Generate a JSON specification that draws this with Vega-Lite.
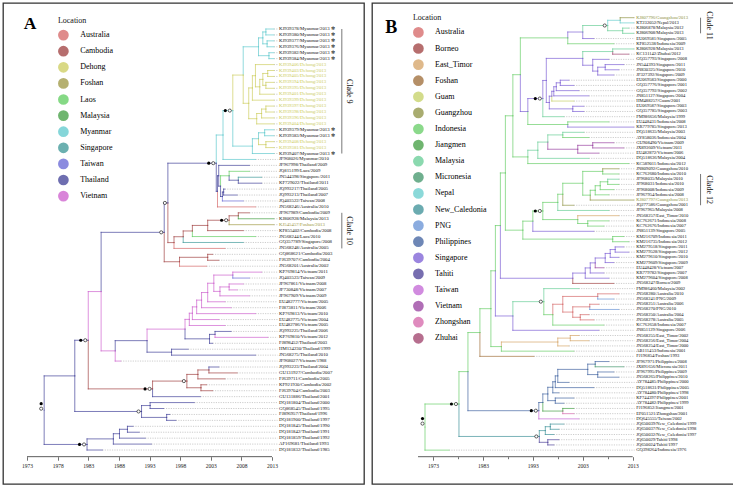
{
"$schema": "https://vega.github.io/schema/vega-lite/v6.json",
"background": "white",
"padding": {"left": 2, "top": 2, "right": 0, "bottom": 0},
"spacing": 6,
"config": {"view": {"stroke": "#333333", "strokeWidth": 1.3}, "font": "Liberation Serif"},
"resolve": {"scale": {"color": "independent", "x": "independent", "y": "independent"}, "legend": {"color": "independent"}, "axis": {"x": "independent", "y": "independent"}},
"datasets": {
"nodesA": [
{"id":1,"par":101,"x":2013.3,"y":1,"loc":"Myanmar","name":"KJ939378/Myanmar/2013  ✻"},
{"id":2,"par":101,"x":2013.3,"y":2,"loc":"Myanmar","name":"KJ939380/Myanmar/2013  ✻"},
{"id":3,"par":102,"x":2013.3,"y":3,"loc":"Myanmar","name":"KJ939377/Myanmar/2013  ✻"},
{"id":4,"par":102,"x":2013.3,"y":4,"loc":"Myanmar","name":"KJ939376/Myanmar/2013  ✻"},
{"id":5,"par":104,"x":2013.3,"y":5,"loc":"Myanmar","name":"KJ939382/Myanmar/2013  ✻"},
{"id":6,"par":104,"x":2013.3,"y":6,"loc":"Myanmar","name":"KJ939384/Myanmar/2013  ✻"},
{"id":7,"par":110,"x":2013.3,"y":7,"loc":"Dehong","name":"KJ939406/Dehong/2013","study":1},
{"id":8,"par":106,"x":2013.3,"y":8,"loc":"Dehong","name":"KJ939403/Dehong/2013","study":1},
{"id":9,"par":106,"x":2013.3,"y":9,"loc":"Dehong","name":"KJ939405/Dehong/2013","study":1},
{"id":10,"par":107,"x":2013.3,"y":10,"loc":"Dehong","name":"KJ939394/Dehong/2013","study":1},
{"id":11,"par":107,"x":2013.3,"y":11,"loc":"Dehong","name":"KJ939395/Dehong/2013","study":1},
{"id":12,"par":109,"x":2013.3,"y":12,"loc":"Dehong","name":"KJ939401/Dehong/2013","study":1},
{"id":13,"par":111,"x":2013.3,"y":13,"loc":"Dehong","name":"KJ939399/Dehong/2013","study":1},
{"id":14,"par":112,"x":2013.3,"y":14,"loc":"Dehong","name":"KJ939397/Dehong/2013","study":1},
{"id":15,"par":112,"x":2013.3,"y":15,"loc":"Dehong","name":"KJ939398/Dehong/2013","study":1},
{"id":16,"par":113,"x":2013.3,"y":16,"loc":"Dehong","name":"KJ939396/Dehong/2013","study":1},
{"id":17,"par":114,"x":2013.3,"y":17,"loc":"Dehong","name":"KJ939404/Dehong/2013","study":1},
{"id":18,"par":117,"x":2013.3,"y":18,"loc":"Myanmar","name":"KJ939379/Myanmar/2013  ✻"},
{"id":19,"par":117,"x":2013.3,"y":19,"loc":"Myanmar","name":"KJ939383/Myanmar/2013  ✻"},
{"id":20,"par":118,"x":2013.3,"y":20,"loc":"Dehong","name":"KJ939408/Dehong/2013","study":1},
{"id":21,"par":118,"x":2013.3,"y":21,"loc":"Dehong","name":"KJ939381/Dehong/2013","study":1},
{"id":22,"par":120,"x":2013.3,"y":22,"loc":"Myanmar","name":"KJ939407/Myanmar/2013  ✻"},
{"id":23,"par":122,"x":2010.3,"y":23,"loc":"Myanmar","name":"JF968026/Myanmar/2010"},
{"id":24,"par":128,"x":2009.3,"y":24,"loc":"Thailand","name":"JF967998/Thailand/2009"},
{"id":25,"par":124,"x":2009.3,"y":25,"loc":"Laos","name":"JQ815199/Laos/2009"},
{"id":26,"par":123,"x":2011.3,"y":26,"loc":"Singapore","name":"JN544398/Singapore/2011"},
{"id":27,"par":123,"x":2011.3,"y":27,"loc":"Thailand","name":"KF729022/Thailand/2011"},
{"id":28,"par":125,"x":2005.3,"y":28,"loc":"Thailand","name":"JQ993217/Thailand/2005"},
{"id":29,"par":125,"x":2007.3,"y":29,"loc":"Thailand","name":"JQ993213/Thailand/2007"},
{"id":30,"par":126,"x":2008.3,"y":30,"loc":"Taiwan","name":"JQ403522/Taiwan/2008"},
{"id":31,"par":129,"x":2010.3,"y":31,"loc":"Australia","name":"JN568246/Australia/2010"},
{"id":32,"par":131,"x":2009.3,"y":32,"loc":"Cambodia","name":"JF967989/Cambodia/2009"},
{"id":33,"par":131,"x":2013.3,"y":33,"loc":"Malaysia","name":"KJ806928/Malaysia/2013"},
{"id":34,"par":132,"x":2013.3,"y":34,"loc":"Foshan","name":"KJ545457/Foshan/2013","study":1},
{"id":35,"par":133,"x":2008.3,"y":35,"loc":"Cambodia","name":"KF855402/Cambodia/2008"},
{"id":36,"par":134,"x":2010.3,"y":36,"loc":"Laos","name":"JN568244/Laos/2010"},
{"id":37,"par":135,"x":2008.3,"y":37,"loc":"Singapore","name":"GQ357789/Singapore/2008"},
{"id":38,"par":136,"x":2005.3,"y":38,"loc":"Australia","name":"JN568248/Australia/2005"},
{"id":39,"par":137,"x":2003.3,"y":39,"loc":"Cambodia","name":"GQ868621/Cambodia/2003"},
{"id":40,"par":137,"x":2004.3,"y":40,"loc":"Cambodia","name":"FJ639707/Cambodia/2004"},
{"id":41,"par":138,"x":2002.3,"y":41,"loc":"Australia","name":"JN568201/Australia/2002"},
{"id":42,"par":141,"x":2011.3,"y":42,"loc":"Vietnam","name":"KP769814/Vietnam/2011"},
{"id":43,"par":141,"x":2009.3,"y":43,"loc":"Taiwan","name":"JQ403523/Taiwan/2009"},
{"id":44,"par":142,"x":2008.3,"y":44,"loc":"Vietnam","name":"JF967861/Vietnam/2008"},
{"id":45,"par":142,"x":2007.3,"y":45,"loc":"Vietnam","name":"JF730848/Vietnam/2007"},
{"id":46,"par":143,"x":2009.3,"y":46,"loc":"Vietnam","name":"JF967909/Vietnam/2009"},
{"id":47,"par":145,"x":2005.3,"y":47,"loc":"Vietnam","name":"EU482777/Vietnam/2005"},
{"id":48,"par":146,"x":2006.3,"y":48,"loc":"Vietnam","name":"FJ873811/Vietnam/2006"},
{"id":49,"par":147,"x":2010.3,"y":49,"loc":"Vietnam","name":"KP769813/Vietnam/2010"},
{"id":50,"par":148,"x":2004.3,"y":50,"loc":"Vietnam","name":"EU482775/Vietnam/2004"},
{"id":51,"par":149,"x":2005.3,"y":51,"loc":"Vietnam","name":"EU482786/Vietnam/2005"},
{"id":52,"par":150,"x":2006.3,"y":52,"loc":"Thailand","name":"JQ993225/Thailand/2006"},
{"id":53,"par":150,"x":2012.3,"y":53,"loc":"Vietnam","name":"KP769810/Vietnam/2012"},
{"id":54,"par":151,"x":2003.3,"y":54,"loc":"Thailand","name":"FJ898452/Thailand/2003"},
{"id":55,"par":153,"x":1999.3,"y":55,"loc":"Thailand","name":"HM134230/Thailand/1999"},
{"id":56,"par":153,"x":2010.3,"y":56,"loc":"Thailand","name":"JN568275/Thailand/2010"},
{"id":57,"par":155,"x":1988.3,"y":57,"loc":"Vietnam","name":"JF968027/Vietnam/1988"},
{"id":58,"par":157,"x":2004.3,"y":58,"loc":"Thailand","name":"JQ993223/Thailand/2004"},
{"id":59,"par":157,"x":2007.3,"y":59,"loc":"Cambodia","name":"GU131927/Cambodia/2007"},
{"id":60,"par":158,"x":2005.3,"y":60,"loc":"Cambodia","name":"FJ639711/Cambodia/2005"},
{"id":61,"par":159,"x":2002.3,"y":61,"loc":"Cambodia","name":"KF921930/Cambodia/2002"},
{"id":62,"par":159,"x":2003.3,"y":62,"loc":"Cambodia","name":"FJ639704/Cambodia/2003"},
{"id":63,"par":161,"x":2001.3,"y":63,"loc":"Thailand","name":"GU131886/Thailand/2001"},
{"id":64,"par":163,"x":2000.3,"y":64,"loc":"Thailand","name":"DQ181804/Thailand/2000"},
{"id":65,"par":163,"x":1995.3,"y":65,"loc":"Thailand","name":"GQ868545/Thailand/1995"},
{"id":66,"par":164,"x":1996.3,"y":66,"loc":"Thailand","name":"FJ896957/Thailand/1996"},
{"id":67,"par":164,"x":1997.3,"y":67,"loc":"Thailand","name":"DQ181900/Thailand/1997"},
{"id":68,"par":167,"x":1990.3,"y":68,"loc":"Thailand","name":"DQ181845/Thailand/1990"},
{"id":69,"par":167,"x":1991.3,"y":69,"loc":"Thailand","name":"DQ181842/Thailand/1991"},
{"id":70,"par":168,"x":1992.3,"y":70,"loc":"Thailand","name":"DQ181859/Thailand/1992"},
{"id":71,"par":169,"x":1993.3,"y":71,"loc":"Thailand","name":"AF169681/Thailand/1993"},
{"id":72,"par":170,"x":1985.3,"y":72,"loc":"Thailand","name":"DQ181832/Thailand/1985"},
{"id":101,"par":103,"x":2012.0,"y":1.5,"loc":"Myanmar"},
{"id":102,"par":103,"x":2012.2,"y":3.5,"loc":"Myanmar"},
{"id":103,"par":105,"x":2011.5,"y":2.5,"loc":"Myanmar"},
{"id":104,"par":105,"x":2012.5,"y":5.5,"loc":"Myanmar"},
{"id":105,"par":116,"x":2010.8,"y":4,"loc":"Myanmar"},
{"id":106,"par":108,"x":2012.3,"y":8.5,"loc":"Dehong"},
{"id":107,"par":108,"x":2012.0,"y":10.5,"loc":"Dehong"},
{"id":108,"par":109,"x":2011.5,"y":9.5,"loc":"Dehong"},
{"id":109,"par":110,"x":2011.0,"y":10.75,"loc":"Dehong"},
{"id":110,"par":111,"x":2010.3,"y":8.875,"loc":"Dehong"},
{"id":111,"par":115,"x":2009.8,"y":10.94,"loc":"Dehong"},
{"id":112,"par":113,"x":2012.0,"y":14.5,"loc":"Dehong"},
{"id":113,"par":114,"x":2011.3,"y":15.25,"loc":"Dehong"},
{"id":114,"par":115,"x":2010.5,"y":16.125,"loc":"Dehong"},
{"id":115,"par":116,"x":2009.2,"y":13.53,"loc":"Dehong"},
{"id":116,"par":121,"x":2008.3,"y":8.77,"loc":"Dehong"},
{"id":117,"par":119,"x":2011.8,"y":18.5,"loc":"Myanmar"},
{"id":118,"par":119,"x":2012.0,"y":20.5,"loc":"Dehong"},
{"id":119,"par":120,"x":2010.8,"y":19.5,"loc":"Myanmar"},
{"id":120,"par":121,"x":2009.8,"y":20.75,"loc":"Myanmar"},
{"id":121,"par":122,"x":2006.6,"y":14.76,"loc":"Myanmar","bp":1,"ml":1},
{"id":122,"par":130,"x":2005.0,"y":18.88,"loc":"Myanmar"},
{"id":123,"par":124,"x":2007.5,"y":26.5,"loc":"Thailand"},
{"id":124,"par":127,"x":2006.0,"y":25.75,"loc":"Laos"},
{"id":125,"par":126,"x":2005.1,"y":28.5,"loc":"Thailand"},
{"id":126,"par":127,"x":2004.9,"y":29.25,"loc":"Thailand"},
{"id":127,"par":128,"x":2004.6,"y":27.5,"loc":"Thailand"},
{"id":128,"par":129,"x":2004.3,"y":25.75,"loc":"Thailand"},
{"id":129,"par":130,"x":2004.1,"y":28.375,"loc":"Thailand"},
{"id":130,"par":172,"x":2003.9,"y":23.63,"loc":"Thailand","bp":1,"ml":1},
{"id":131,"par":132,"x":2007.5,"y":32.5,"loc":"Cambodia"},
{"id":132,"par":133,"x":2006.0,"y":33.25,"loc":"Cambodia","bp":1,"ml":1},
{"id":133,"par":134,"x":2002.5,"y":34.125,"loc":"Cambodia"},
{"id":134,"par":135,"x":2000.0,"y":35.06,"loc":"Cambodia"},
{"id":135,"par":136,"x":1998.5,"y":36.03,"loc":"Cambodia"},
{"id":136,"par":172,"x":1997.0,"y":37.02,"loc":"Cambodia"},
{"id":137,"par":138,"x":2002.5,"y":39.5,"loc":"Cambodia"},
{"id":138,"par":173,"x":1997.9,"y":40.25,"loc":"Cambodia"},
{"id":172,"par":173,"x":1996.0,"y":30.33,"loc":"Thailand","ml":1},
{"id":173,"par":156,"x":1995.4,"y":35.29,"loc":"Thailand","ml":1},
{"id":141,"par":144,"x":2006.6,"y":42.5,"loc":"Vietnam"},
{"id":142,"par":143,"x":2006.0,"y":44.5,"loc":"Vietnam"},
{"id":143,"par":144,"x":2004.5,"y":45.25,"loc":"Vietnam"},
{"id":144,"par":145,"x":2003.5,"y":43.875,"loc":"Vietnam"},
{"id":145,"par":146,"x":2002.5,"y":45.44,"loc":"Vietnam"},
{"id":146,"par":147,"x":2001.5,"y":46.72,"loc":"Vietnam"},
{"id":147,"par":148,"x":2000.7,"y":47.86,"loc":"Vietnam"},
{"id":148,"par":149,"x":2000.0,"y":48.93,"loc":"Vietnam"},
{"id":149,"par":152,"x":1999.5,"y":49.97,"loc":"Vietnam"},
{"id":150,"par":151,"x":2003.7,"y":52.5,"loc":"Thailand"},
{"id":151,"par":152,"x":2002.8,"y":53.25,"loc":"Thailand"},
{"id":152,"par":154,"x":1998.8,"y":51.61,"loc":"Vietnam"},
{"id":153,"par":154,"x":1996.6,"y":55.5,"loc":"Thailand"},
{"id":154,"par":155,"x":1992.6,"y":53.555,"loc":"Thailand"},
{"id":155,"par":156,"x":1987.4,"y":55.28,"loc":"Vietnam"},
{"id":156,"par":162,"x":1985.1,"y":45.28,"loc":"Vietnam"},
{"id":157,"par":158,"x":2002.7,"y":58.5,"loc":"Cambodia"},
{"id":158,"par":160,"x":2000.9,"y":59.25,"loc":"Cambodia"},
{"id":159,"par":160,"x":2001.4,"y":61.5,"loc":"Cambodia"},
{"id":160,"par":161,"x":1999.1,"y":60.375,"loc":"Cambodia","ml":1},
{"id":161,"par":162,"x":1993.5,"y":61.69,"loc":"Cambodia","bp":1,"ml":1},
{"id":162,"par":166,"x":1983.0,"y":53.49,"loc":"Thailand","bp":1,"ml":1},
{"id":163,"par":165,"x":1993.1,"y":64.5,"loc":"Thailand"},
{"id":164,"par":165,"x":1995.8,"y":66.5,"loc":"Thailand"},
{"id":165,"par":166,"x":1991.7,"y":65.5,"loc":"Thailand","ml":1},
{"id":166,"par":171,"x":1980.8,"y":59.5,"loc":"Thailand"},
{"id":167,"par":168,"x":1989.4,"y":68.5,"loc":"Thailand"},
{"id":168,"par":169,"x":1988.1,"y":69.25,"loc":"Thailand"},
{"id":169,"par":170,"x":1987.1,"y":70.125,"loc":"Thailand"},
{"id":170,"par":171,"x":1982.8,"y":71.06,"loc":"Thailand","bp":1,"ml":1},
{"id":171,"x":1975.8,"y":65.28,"loc":"Thailand","root":1}
],
"nodesB": [
{"id":1,"par":102,"x":2013.2,"y":1,"loc":"Guangzhou","name":"KJ807796/Guangzhou/2013","study":1},
{"id":2,"par":102,"x":2013.2,"y":2,"loc":"Nepal","name":"KT232052/Nepal/2013"},
{"id":3,"par":101,"x":2012.2,"y":3,"loc":"Malaysia","name":"KJ806878/Malaysia/2012"},
{"id":4,"par":101,"x":2013.2,"y":4,"loc":"Malaysia","name":"KJ806908/Malaysia/2013"},
{"id":5,"par":104,"x":2005.2,"y":5,"loc":"Singapore","name":"EU069581/Singapore/2005"},
{"id":6,"par":105,"x":2009.2,"y":6,"loc":"Indonesia","name":"KF852538/Indonesia/2009"},
{"id":7,"par":106,"x":2013.2,"y":7,"loc":"Malaysia","name":"KJ806928/Malaysia/2013"},
{"id":8,"par":106,"x":2012.2,"y":8,"loc":"Zhuhai","name":"KC131142/Zhuhai/2012"},
{"id":9,"par":109,"x":2008.2,"y":9,"loc":"Singapore","name":"GQ357793/Singapore/2008"},
{"id":10,"par":107,"x":2011.2,"y":10,"loc":"Singapore","name":"JN544393/Singapore/2011"},
{"id":11,"par":107,"x":2010.2,"y":11,"loc":"Singapore","name":"JN830325/Singapore/2010"},
{"id":12,"par":108,"x":2009.2,"y":12,"loc":"Singapore","name":"JF327392/Singapore/2009"},
{"id":13,"par":111,"x":2000.2,"y":13,"loc":"Singapore","name":"EU069583/Singapore/2000"},
{"id":14,"par":111,"x":2001.2,"y":14,"loc":"Singapore","name":"GQ357776/Singapore/2001"},
{"id":15,"par":112,"x":2002.2,"y":15,"loc":"Singapore","name":"GQ357792/Singapore/2002"},
{"id":16,"par":113,"x":2004.2,"y":16,"loc":"Singapore","name":"JN851127/Singapore/2004"},
{"id":17,"par":114,"x":2001.2,"y":17,"loc":"Guam","name":"HM488257/Guam/2001"},
{"id":18,"par":115,"x":2003.2,"y":18,"loc":"Singapore","name":"EU069587/Singapore/2003"},
{"id":19,"par":115,"x":2003.2,"y":19,"loc":"Singapore","name":"GQ357785/Singapore/2003"},
{"id":20,"par":118,"x":1999.2,"y":20,"loc":"Malaysia","name":"FM986656/Malaysia/1999"},
{"id":21,"par":119,"x":2008.2,"y":21,"loc":"Indonesia","name":"EU448431/Indonesia/2008"},
{"id":22,"par":119,"x":2013.2,"y":22,"loc":"Singapore","name":"KR779785/Singapore/2013"},
{"id":23,"par":122,"x":2003.2,"y":23,"loc":"Malaysia","name":"DQ518635/Malaysia/2003"},
{"id":24,"par":122,"x":2004.2,"y":24,"loc":"Indonesia","name":"AY858036/Indonesia/2004"},
{"id":25,"par":123,"x":2009.2,"y":25,"loc":"Vietnam","name":"GU908490/Vietnam/2009"},
{"id":26,"par":123,"x":2011.2,"y":26,"loc":"Vietnam","name":"JX893609/Vietnam/2011"},
{"id":27,"par":124,"x":2006.2,"y":27,"loc":"Vietnam","name":"EU482872/Vietnam/2006"},
{"id":28,"par":126,"x":2004.2,"y":28,"loc":"Malaysia","name":"DQ518636/Malaysia/2004"},
{"id":29,"par":127,"x":2012.2,"y":29,"loc":"Indonesia","name":"KC589011/Indonesia/2012"},
{"id":30,"par":129,"x":2010.2,"y":30,"loc":"Guangzhou","name":"JN809092/Guangzhou/2010"},
{"id":31,"par":129,"x":2010.2,"y":31,"loc":"Indonesia","name":"KC762680/Indonesia/2010"},
{"id":32,"par":130,"x":2010.2,"y":32,"loc":"Malaysia","name":"JF968035/Malaysia/2010"},
{"id":33,"par":130,"x":2010.2,"y":33,"loc":"Indonesia","name":"JF968031/Indonesia/2010"},
{"id":34,"par":131,"x":2009.2,"y":34,"loc":"Indonesia","name":"JF968008/Indonesia/2009"},
{"id":35,"par":132,"x":2008.2,"y":35,"loc":"Indonesia","name":"JF967954/Indonesia/2008"},
{"id":36,"par":133,"x":2013.2,"y":36,"loc":"Guangzhou","name":"KJ807797/Guangzhou/2013","study":1},
{"id":37,"par":135,"x":2001.2,"y":37,"loc":"Guangzhou","name":"JQ277586/Guangzhou/2001"},
{"id":38,"par":136,"x":2008.2,"y":38,"loc":"Malaysia","name":"JF967965/Malaysia/2008"},
{"id":39,"par":138,"x":2010.2,"y":39,"loc":"East_Timor","name":"JN568257/East_Timor/2010"},
{"id":40,"par":137,"x":2008.2,"y":40,"loc":"Indonesia","name":"KC762671/Indonesia/2008"},
{"id":41,"par":137,"x":2007.2,"y":41,"loc":"Indonesia","name":"KC762676/Indonesia/2007"},
{"id":42,"par":140,"x":2005.2,"y":42,"loc":"Singapore","name":"JN851139/Singapore/2005"},
{"id":43,"par":141,"x":2011.2,"y":43,"loc":"Indonesia","name":"KM216709/Indonesia/2011"},
{"id":44,"par":141,"x":2012.2,"y":44,"loc":"Indonesia","name":"KM216735/Indonesia/2012"},
{"id":45,"par":144,"x":2011.2,"y":45,"loc":"Singapore","name":"KM279518/Singapore/2011"},
{"id":46,"par":144,"x":2012.2,"y":46,"loc":"Singapore","name":"KM279528/Singapore/2012"},
{"id":47,"par":145,"x":2010.2,"y":47,"loc":"Singapore","name":"KM279610/Singapore/2010"},
{"id":48,"par":146,"x":2009.2,"y":48,"loc":"Singapore","name":"KM279609/Singapore/2009"},
{"id":49,"par":147,"x":2007.2,"y":49,"loc":"Vietnam","name":"EU448428/Vietnam/2007"},
{"id":50,"par":148,"x":2007.2,"y":50,"loc":"Singapore","name":"KR779782/Singapore/2007"},
{"id":51,"par":149,"x":2008.2,"y":51,"loc":"Singapore","name":"KM279604/Singapore/2008"},
{"id":52,"par":150,"x":2009.2,"y":52,"loc":"Borneo","name":"JN568247/Borneo/2009"},
{"id":53,"par":158,"x":2002.2,"y":53,"loc":"Malaysia","name":"FM986460/Malaysia/2002"},
{"id":54,"par":152,"x":2010.2,"y":54,"loc":"Australia","name":"JN568280/Australia/2010"},
{"id":55,"par":152,"x":2009.2,"y":55,"loc":"PNG","name":"JN568241/PNG/2009"},
{"id":56,"par":153,"x":2006.2,"y":56,"loc":"Australia","name":"JN568251/Australia/2006"},
{"id":57,"par":153,"x":2010.2,"y":57,"loc":"PNG","name":"JN568270/PNG/2010"},
{"id":58,"par":154,"x":2004.2,"y":58,"loc":"Australia","name":"JN568250/Australia/2004"},
{"id":59,"par":154,"x":2005.2,"y":59,"loc":"Australia","name":"JN568278/Australia/2005"},
{"id":60,"par":157,"x":2007.2,"y":60,"loc":"Indonesia","name":"KC762658/Indonesia/2007"},
{"id":61,"par":160,"x":2006.2,"y":61,"loc":"Singapore","name":"JN851129/Singapore/2006"},
{"id":62,"par":161,"x":2002.2,"y":62,"loc":"East_Timor","name":"JN568255/East_Timor/2002"},
{"id":63,"par":161,"x":2004.2,"y":63,"loc":"East_Timor","name":"JN568256/East_Timor/2004"},
{"id":64,"par":162,"x":2000.2,"y":64,"loc":"East_Timor","name":"JN568254/East_Timor/2000"},
{"id":65,"par":164,"x":2001.2,"y":65,"loc":"Indonesia","name":"AB111453/Indonesia/2001"},
{"id":66,"par":165,"x":1993.2,"y":66,"loc":"Foshan","name":"FJ196854/Foshan/1993"},
{"id":67,"par":166,"x":2008.2,"y":67,"loc":"Philippines","name":"JF967971/Philippines/2008"},
{"id":68,"par":166,"x":2011.2,"y":68,"loc":"Micronesia","name":"JX891656/Micronesia/2011"},
{"id":69,"par":167,"x":2009.2,"y":69,"loc":"Philippines","name":"JF967995/Philippines/2009"},
{"id":70,"par":167,"x":2010.2,"y":70,"loc":"Philippines","name":"JN568265/Philippines/2010"},
{"id":71,"par":169,"x":2000.2,"y":71,"loc":"Philippines","name":"AY784485/Philippines/2000"},
{"id":72,"par":170,"x":2005.2,"y":72,"loc":"Philippines","name":"DQ518631/Philippines/2005"},
{"id":73,"par":171,"x":1998.2,"y":73,"loc":"Philippines","name":"AY784480/Philippines/1998"},
{"id":74,"par":172,"x":2001.2,"y":74,"loc":"Philippines","name":"KF744397/Philippines/2001"},
{"id":75,"par":172,"x":1999.2,"y":75,"loc":"Philippines","name":"AY784482/Philippines/1999"},
{"id":76,"par":174,"x":2001.2,"y":76,"loc":"Jiangmen","name":"FJ196852/Jiangmen/2001"},
{"id":77,"par":174,"x":2001.2,"y":77,"loc":"Zhongshan","name":"EF051521/Zhongshan/2001"},
{"id":78,"par":176,"x":2002.2,"y":78,"loc":"Taiwan","name":"DQ645555/Taiwan/2002"},
{"id":79,"par":178,"x":1999.2,"y":79,"loc":"New_Caledonia","name":"JQ650039/New_Caledonia/1999"},
{"id":80,"par":178,"x":1998.2,"y":80,"loc":"New_Caledonia","name":"JQ650037/New_Caledonia/1998"},
{"id":81,"par":179,"x":1997.2,"y":81,"loc":"New_Caledonia","name":"JQ650032/New_Caledonia/1997"},
{"id":82,"par":180,"x":1998.2,"y":82,"loc":"Tahiti","name":"JQ650029/Tahiti/1998"},
{"id":83,"par":180,"x":1997.2,"y":83,"loc":"Tahiti","name":"JQ650024/Tahiti/1997"},
{"id":84,"par":183,"x":1976.2,"y":84,"loc":"Indonesia","name":"GQ398264/Indonesia/1976"},
{"id":101,"par":103,"x":2011.0,"y":3.5,"loc":"Malaysia"},
{"id":102,"par":103,"x":2010.5,"y":1.5,"loc":"Nepal"},
{"id":103,"par":104,"x":2008.0,"y":2.5,"loc":"Malaysia","ml":1},
{"id":104,"par":105,"x":2003.0,"y":3.75,"loc":"Singapore"},
{"id":105,"par":121,"x":2000.0,"y":4.875,"loc":"Indonesia"},
{"id":106,"par":110,"x":2009.0,"y":7.5,"loc":"Malaysia"},
{"id":107,"par":108,"x":2007.5,"y":10.5,"loc":"Singapore"},
{"id":108,"par":109,"x":2006.0,"y":11.25,"loc":"Singapore"},
{"id":109,"par":110,"x":2005.0,"y":10.125,"loc":"Singapore"},
{"id":110,"par":117,"x":2003.0,"y":8.8125,"loc":"Singapore"},
{"id":111,"par":112,"x":1998.5,"y":13.5,"loc":"Singapore"},
{"id":112,"par":113,"x":1997.7,"y":14.25,"loc":"Singapore"},
{"id":113,"par":114,"x":1997.2,"y":15.125,"loc":"Singapore"},
{"id":114,"par":116,"x":1996.8,"y":16.0625,"loc":"Singapore"},
{"id":115,"par":116,"x":2001.0,"y":18.5,"loc":"Singapore"},
{"id":116,"par":117,"x":1996.3,"y":17.28,"loc":"Singapore"},
{"id":117,"par":118,"x":1995.7,"y":13.05,"loc":"Singapore"},
{"id":118,"par":120,"x":1995.0,"y":16.52,"loc":"Singapore","bp":1,"ml":1},
{"id":119,"par":120,"x":2000.0,"y":21.5,"loc":"Indonesia"},
{"id":120,"par":121,"x":1992.0,"y":19.01,"loc":"Singapore"},
{"id":121,"par":128,"x":1990.5,"y":11.94,"loc":"Indonesia"},
{"id":122,"par":125,"x":1999.0,"y":23.5,"loc":"Malaysia"},
{"id":123,"par":124,"x":2005.0,"y":25.5,"loc":"Vietnam"},
{"id":124,"par":125,"x":2002.0,"y":26.25,"loc":"Vietnam"},
{"id":125,"par":126,"x":1996.0,"y":24.875,"loc":"Malaysia"},
{"id":126,"par":127,"x":1994.0,"y":26.44,"loc":"Malaysia"},
{"id":127,"par":128,"x":1992.0,"y":27.72,"loc":"Indonesia"},
{"id":128,"par":143,"x":1989.0,"y":19.83,"loc":"Indonesia"},
{"id":129,"par":134,"x":2007.0,"y":30.5,"loc":"Indonesia"},
{"id":130,"par":131,"x":2008.0,"y":32.5,"loc":"Indonesia"},
{"id":131,"par":132,"x":2006.5,"y":33.25,"loc":"Indonesia"},
{"id":132,"par":133,"x":2005.5,"y":34.125,"loc":"Indonesia"},
{"id":133,"par":134,"x":2004.5,"y":35.06,"loc":"Indonesia"},
{"id":134,"par":135,"x":2003.0,"y":32.78,"loc":"Indonesia"},
{"id":135,"par":136,"x":1999.0,"y":34.89,"loc":"Indonesia"},
{"id":136,"par":139,"x":1998.0,"y":36.45,"loc":"Indonesia"},
{"id":137,"par":138,"x":2004.0,"y":40.5,"loc":"Indonesia"},
{"id":138,"par":139,"x":2002.0,"y":39.75,"loc":"Indonesia"},
{"id":139,"par":140,"x":1995.0,"y":38.1,"loc":"Indonesia","bp":1,"ml":1},
{"id":140,"par":142,"x":1993.0,"y":40.05,"loc":"Indonesia"},
{"id":141,"par":142,"x":2009.0,"y":43.5,"loc":"Indonesia"},
{"id":142,"par":143,"x":1991.0,"y":41.78,"loc":"Indonesia"},
{"id":143,"par":151,"x":1987.5,"y":30.8,"loc":"Indonesia"},
{"id":144,"par":145,"x":2009.5,"y":45.5,"loc":"Singapore"},
{"id":145,"par":146,"x":2008.5,"y":46.25,"loc":"Singapore"},
{"id":146,"par":147,"x":2007.5,"y":47.125,"loc":"Singapore"},
{"id":147,"par":148,"x":2005.5,"y":48.06,"loc":"Singapore"},
{"id":148,"par":149,"x":2004.5,"y":49.03,"loc":"Singapore"},
{"id":149,"par":150,"x":2003.5,"y":50.02,"loc":"Singapore"},
{"id":150,"par":151,"x":2001.0,"y":51.01,"loc":"Singapore"},
{"id":151,"par":159,"x":1986.5,"y":40.9,"loc":"Indonesia"},
{"id":152,"par":156,"x":2006.0,"y":54.5,"loc":"Australia"},
{"id":153,"par":155,"x":2004.4,"y":56.5,"loc":"Australia"},
{"id":154,"par":155,"x":2002.5,"y":58.5,"loc":"Australia"},
{"id":155,"par":156,"x":2001.0,"y":57.5,"loc":"Australia"},
{"id":156,"par":157,"x":1999.0,"y":56.0,"loc":"Australia"},
{"id":157,"par":158,"x":1997.0,"y":58.0,"loc":"Indonesia"},
{"id":158,"par":160,"x":1995.2,"y":55.5,"loc":"Malaysia","ml":1},
{"id":159,"par":163,"x":1985.5,"y":49.58,"loc":"Indonesia"},
{"id":160,"par":159,"x":1989.0,"y":58.25,"loc":"Singapore"},
{"id":161,"par":162,"x":2000.5,"y":62.5,"loc":"East_Timor"},
{"id":162,"par":164,"x":1998.0,"y":63.25,"loc":"East_Timor"},
{"id":163,"par":165,"x":1984.6,"y":56.85,"loc":"Indonesia"},
{"id":164,"par":163,"x":1986.7,"y":64.125,"loc":"Indonesia"},
{"id":165,"par":177,"x":1982.4,"y":61.43,"loc":"Indonesia"},
{"id":166,"par":168,"x":2005.5,"y":67.5,"loc":"Philippines"},
{"id":167,"par":168,"x":2006.0,"y":69.5,"loc":"Philippines"},
{"id":168,"par":169,"x":2004.0,"y":68.5,"loc":"Philippines"},
{"id":169,"par":170,"x":1998.0,"y":69.75,"loc":"Philippines"},
{"id":170,"par":171,"x":1997.5,"y":70.875,"loc":"Philippines"},
{"id":171,"par":173,"x":1997.0,"y":71.94,"loc":"Philippines"},
{"id":172,"par":173,"x":1997.5,"y":74.5,"loc":"Philippines"},
{"id":173,"par":175,"x":1996.0,"y":73.22,"loc":"Philippines"},
{"id":174,"par":175,"x":1999.0,"y":76.5,"loc":"Jiangmen"},
{"id":175,"par":176,"x":1995.0,"y":74.86,"loc":"Philippines"},
{"id":176,"par":177,"x":1994.2,"y":76.43,"loc":"Philippines","bp":1,"ml":1},
{"id":177,"par":182,"x":1980.0,"y":68.93,"loc":"Indonesia"},
{"id":178,"par":179,"x":1996.5,"y":79.5,"loc":"New_Caledonia"},
{"id":179,"par":181,"x":1995.5,"y":80.25,"loc":"New_Caledonia"},
{"id":180,"par":181,"x":1996.0,"y":82.5,"loc":"Tahiti"},
{"id":181,"par":182,"x":1994.3,"y":81.375,"loc":"New_Caledonia","ml":1},
{"id":182,"par":183,"x":1978.2,"y":75.15,"loc":"Indonesia","bp":1,"ml":1},
{"id":183,"x":1971.4,"y":79.58,"loc":"Indonesia","root":1}
]
},
"hconcat": [
{
"width": 361, "height": 481,
"data": {"name": "nodesA"},
"layer": [
{
"transform": [{"filter": "isValid(datum.name)"}],
"mark": {"type": "rule", "color": "#9a9a9a", "strokeWidth": 0.5, "strokeDash": [1.2, 1.2]},
"encoding": {
"x": {"field": "x", "type": "quantitative", "scale": {"domain": [1969.08, 2028.02], "nice": false, "zero": false}},
"x2": {"datum": 2013.9},
"y": {"field": "y", "type": "quantitative", "scale": {"domain": [-3.385, 77.73], "reverse": true, "nice": false, "zero": false}, "axis": null}
}
},
{
"transform": [{"lookup": "par", "from": {"data": {"name": "nodesA"}, "key": "id", "fields": ["x", "y"]}, "as": ["px", "py"]}, {"filter": "isValid(datum.px)"}],
"mark": {"type": "rule", "strokeWidth": 0.9, "opacity": 0.75, "strokeCap": "square"},
"encoding": {
"x": {"field": "px", "type": "quantitative"},
"y": {"field": "py", "type": "quantitative", "axis": null},
"y2": {"field": "y"},
"color": {"field": "loc", "type": "nominal", "scale": {"domain": ["Australia","Cambodia","Dehong","Foshan","Laos","Malaysia","Myanmar","Singapore","Taiwan","Thailand","Vietnam"], "range": ["#d46464","#9e3d3d","#cccc5c","#9c9640","#5ccc5c","#3f9c3f","#5cc8cc","#3a9696","#6464d4","#3d3d96","#cc5ccc"]}}
}
},
{
"transform": [{"lookup": "par", "from": {"data": {"name": "nodesA"}, "key": "id", "fields": ["x", "y"]}, "as": ["px", "py"]}, {"filter": "isValid(datum.px)"}],
"mark": {"type": "rule", "strokeWidth": 0.9, "opacity": 0.75, "strokeCap": "square"},
"encoding": {
"x": {"field": "px", "type": "quantitative", "axis": {"values": [1973,1975.5,1978,1980.5,1983,1985.5,1988,1990.5,1993,1995.5,1998,2000.5,2003,2005.5,2008,2010.5,2013], "labelExpr": "datum.value % 5 == 3 ? format(datum.value, 'd') : ''", "domain": false, "grid": false, "offset": -27.3, "tickColor": "#333333", "tickWidth": 0.7, "tickSize": {"condition": {"test": "datum.value % 5 == 3", "value": 3.5}, "value": 2}, "labelFont": "Liberation Serif", "labelFontSize": 5.5, "labelColor": "#222222", "labelPadding": 3, "labelOverlap": false, "labelFlush": false, "title": null}},
"x2": {"field": "x"},
"y": {"field": "y", "type": "quantitative", "axis": null},
"color": {"field": "loc", "type": "nominal", "legend": {"title": "Location", "orient": "none", "legendX": 54.9, "legendY": 13.6, "direction": "vertical", "titleFont": "Liberation Serif", "titleFontSize": 8, "titleFontWeight": "normal", "titleColor": "#111111", "titlePadding": 5, "labelFont": "Liberation Serif", "labelFontSize": 8, "labelOffset": 11.3, "symbolType": "circle", "symbolSize": 115, "symbolStrokeWidth": 0, "rowPadding": 5.1, "padding": 0, "labelLimit": 200,
"encode": {"symbols": {"update": {"fill": {"signal": "{'Australia':'#d46464','Cambodia':'#9e3d3d','Dehong':'#cccc5c','Foshan':'#9c9640','Laos':'#5ccc5c','Malaysia':'#3f9c3f','Myanmar':'#5cc8cc','Singapore':'#3a9696','Taiwan':'#6464d4','Thailand':'#3d3d96','Vietnam':'#cc5ccc'}[datum.value]"}, "opacity": {"value": 1}, "strokeWidth": {"value": 0}}},
"labels": {"update": {"fill": {"signal": "{'Australia':'#d46464','Cambodia':'#9e3d3d','Dehong':'#cccc5c','Foshan':'#9c9640','Laos':'#5ccc5c','Malaysia':'#3f9c3f','Myanmar':'#5cc8cc','Singapore':'#3a9696','Taiwan':'#6464d4','Thailand':'#3d3d96','Vietnam':'#cc5ccc'}[datum.value]"}}}}}}
}
},
{
"transform": [{"filter": "datum.bp == 1"}],
"mark": {"type": "point", "shape": "circle", "filled": true, "color": "black", "size": 10, "opacity": 1, "xOffset": -7.5},
"encoding": {"x": {"field": "x", "type": "quantitative"}, "y": {"field": "y", "type": "quantitative", "axis": null}}
},
{
"transform": [{"filter": "datum.ml == 1"}],
"mark": {"type": "point", "shape": "circle", "filled": true, "fill": "white", "stroke": "black", "strokeWidth": 0.6, "size": 10, "opacity": 1, "xOffset": -3},
"encoding": {"x": {"field": "x", "type": "quantitative"}, "y": {"field": "y", "type": "quantitative", "axis": null}}
},
{
"transform": [{"filter": "datum.root == 1"}],
"mark": {"type": "point", "shape": "circle", "filled": true, "color": "black", "size": 10, "opacity": 1, "xOffset": -3, "yOffset": -6.5},
"encoding": {"x": {"field": "x", "type": "quantitative"}, "y": {"field": "y", "type": "quantitative", "axis": null}}
},
{
"transform": [{"filter": "datum.root == 1"}],
"mark": {"type": "point", "shape": "circle", "filled": true, "fill": "white", "stroke": "black", "strokeWidth": 0.6, "size": 10, "opacity": 1, "xOffset": -3, "yOffset": -1.5},
"encoding": {"x": {"field": "x", "type": "quantitative"}, "y": {"field": "y", "type": "quantitative", "axis": null}}
},
{
"transform": [{"filter": "isValid(datum.name)"}],
"mark": {"type": "text", "align": "left", "baseline": "middle", "fontSize": 4.8, "font": "Liberation Serif"},
"encoding": {
"x": {"datum": 2014.14},
"y": {"field": "y", "type": "quantitative", "axis": null},
"text": {"field": "name"},
"color": {"condition": {"test": "datum.study == 1", "field": "loc", "type": "nominal"}, "value": "#111111"}
}
},
{
"data": {"values": [{"clade": "Clade 9", "from": 1, "to": 22}, {"clade": "Clade 10", "from": 32, "to": 38}]},
"mark": {"type": "rule", "color": "#555555", "strokeWidth": 0.8},
"encoding": {"x": {"datum": 2024.4}, "y": {"field": "from", "type": "quantitative", "axis": null}, "y2": {"field": "to"}}
},
{
"data": {"values": [{"clade": "Clade 9", "from": 1, "to": 22}, {"clade": "Clade 10", "from": 32, "to": 38}]},
"transform": [{"calculate": "(datum.from + datum.to) / 2", "as": "mid"}],
"mark": {"type": "text", "angle": 90, "fontSize": 8, "font": "Liberation Serif", "color": "#111111", "align": "center", "baseline": "middle"},
"encoding": {"x": {"datum": 2025.5}, "y": {"field": "mid", "type": "quantitative", "axis": null}, "text": {"field": "clade"}}
},
{
"data": {"values": [{}]},
"mark": {"type": "rule", "color": "#333333", "strokeWidth": 0.8},
"encoding": {"x": {"datum": 1973}, "x2": {"datum": 2013}, "y": {"datum": 73.12, "axis": null}}
},
{
"data": {"values": [{"panel": "A"}]},
"mark": {"type": "text", "align": "left", "baseline": "alphabetic", "font": "Liberation Serif", "fontSize": 17.5, "fontWeight": "bold", "color": "black"},
"encoding": {"x": {"datum": 1972.46}, "y": {"datum": 1.05, "axis": null}, "text": {"field": "panel"}}
}
]
},
{
"width": 362, "height": 481,
"data": {"name": "nodesB"},
"layer": [
{
"transform": [{"filter": "isValid(datum.name)"}],
"mark": {"type": "rule", "color": "#9a9a9a", "strokeWidth": 0.5, "strokeDash": [1.2, 1.2]},
"encoding": {
"x": {"field": "x", "type": "quantitative", "scale": {"domain": [1960.78, 2033.3], "nice": false, "zero": false}},
"x2": {"datum": 2013.4},
"y": {"field": "y", "type": "quantitative", "scale": {"domain": [-1.82, 90.5], "reverse": true, "nice": false, "zero": false}, "axis": null}
}
},
{
"transform": [{"lookup": "par", "from": {"data": {"name": "nodesB"}, "key": "id", "fields": ["x", "y"]}, "as": ["px", "py"]}, {"filter": "isValid(datum.px)"}],
"mark": {"type": "rule", "strokeWidth": 0.9, "opacity": 0.75, "strokeCap": "square"},
"encoding": {
"x": {"field": "px", "type": "quantitative"},
"y": {"field": "py", "type": "quantitative", "axis": null},
"y2": {"field": "y"},
"color": {"field": "loc", "type": "nominal", "scale": {"domain": ["Australia","Borneo","East_Timor","Foshan","Guam","Guangzhou","Indonesia","Jiangmen","Malaysia","Micronesia","Nepal","New_Caledonia","PNG","Philippines","Singapore","Tahiti","Taiwan","Vietnam","Zhongshan","Zhuhai"], "range": ["#d46464","#9e3d3d","#d4a264","#9c6a34","#c4d064","#8c9040","#64cc64","#3f9c3f","#64cc94","#3f9468","#64cccc","#3a8f96","#6490d4","#3d5f9e","#7a5cd4","#4a3d96","#c264d4","#963d9e","#d464a8","#9e3d68"]}}
}
},
{
"transform": [{"lookup": "par", "from": {"data": {"name": "nodesB"}, "key": "id", "fields": ["x", "y"]}, "as": ["px", "py"]}, {"filter": "isValid(datum.px)"}],
"mark": {"type": "rule", "strokeWidth": 0.9, "opacity": 0.75, "strokeCap": "square"},
"encoding": {
"x": {"field": "px", "type": "quantitative", "axis": {"values": [1973,1978,1983,1988,1993,1998,2003,2008,2013], "labelExpr": "(datum.value - 1973) % 10 == 0 ? format(datum.value, 'd') : ''", "domain": false, "grid": false, "offset": -27.3, "tickColor": "#333333", "tickWidth": 0.7, "tickSize": {"condition": {"test": "(datum.value - 1973) % 10 == 0", "value": 3.5}, "value": 2}, "labelFont": "Liberation Serif", "labelFontSize": 5.5, "labelColor": "#222222", "labelPadding": 3, "labelOverlap": false, "labelFlush": false, "title": null}},
"x2": {"field": "x"},
"y": {"field": "y", "type": "quantitative", "axis": null},
"color": {"field": "loc", "type": "nominal", "legend": {"title": "Location", "orient": "none", "legendX": 40.9, "legendY": 10.9, "direction": "vertical", "titleFont": "Liberation Serif", "titleFontSize": 8, "titleFontWeight": "normal", "titleColor": "#111111", "titlePadding": 5, "labelFont": "Liberation Serif", "labelFontSize": 8, "labelOffset": 11.1, "symbolType": "circle", "symbolSize": 115, "symbolStrokeWidth": 0, "rowPadding": 5.1, "padding": 0, "labelLimit": 200,
"encode": {"symbols": {"update": {"fill": {"signal": "{'Australia':'#d46464','Borneo':'#9e3d3d','East_Timor':'#d4a264','Foshan':'#9c6a34','Guam':'#c4d064','Guangzhou':'#8c9040','Indonesia':'#64cc64','Jiangmen':'#3f9c3f','Malaysia':'#64cc94','Micronesia':'#3f9468','Nepal':'#64cccc','New_Caledonia':'#3a8f96','PNG':'#6490d4','Philippines':'#3d5f9e','Singapore':'#7a5cd4','Tahiti':'#4a3d96','Taiwan':'#c264d4','Vietnam':'#963d9e','Zhongshan':'#d464a8','Zhuhai':'#9e3d68'}[datum.value]"}, "opacity": {"value": 1}, "strokeWidth": {"value": 0}}},
"labels": {"update": {"fill": {"signal": "{'Australia':'#d46464','Borneo':'#9e3d3d','East_Timor':'#d4a264','Foshan':'#9c6a34','Guam':'#c4d064','Guangzhou':'#8c9040','Indonesia':'#64cc64','Jiangmen':'#3f9c3f','Malaysia':'#64cc94','Micronesia':'#3f9468','Nepal':'#64cccc','New_Caledonia':'#3a8f96','PNG':'#6490d4','Philippines':'#3d5f9e','Singapore':'#7a5cd4','Tahiti':'#4a3d96','Taiwan':'#c264d4','Vietnam':'#963d9e','Zhongshan':'#d464a8','Zhuhai':'#9e3d68'}[datum.value]"}}}}}}
}
},
{
"transform": [{"filter": "datum.bp == 1"}],
"mark": {"type": "point", "shape": "circle", "filled": true, "color": "black", "size": 10, "opacity": 1, "xOffset": -7.5},
"encoding": {"x": {"field": "x", "type": "quantitative"}, "y": {"field": "y", "type": "quantitative", "axis": null}}
},
{
"transform": [{"filter": "datum.ml == 1"}],
"mark": {"type": "point", "shape": "circle", "filled": true, "fill": "white", "stroke": "black", "strokeWidth": 0.6, "size": 10, "opacity": 1, "xOffset": -3},
"encoding": {"x": {"field": "x", "type": "quantitative"}, "y": {"field": "y", "type": "quantitative", "axis": null}}
},
{
"transform": [{"filter": "datum.root == 1"}],
"mark": {"type": "point", "shape": "circle", "filled": true, "color": "black", "size": 10, "opacity": 1, "xOffset": -2.5, "yOffset": -8.5},
"encoding": {"x": {"field": "x", "type": "quantitative"}, "y": {"field": "y", "type": "quantitative", "axis": null}}
},
{
"transform": [{"filter": "datum.root == 1"}],
"mark": {"type": "point", "shape": "circle", "filled": true, "fill": "white", "stroke": "black", "strokeWidth": 0.6, "size": 10, "opacity": 1, "xOffset": -2.5, "yOffset": -3.5},
"encoding": {"x": {"field": "x", "type": "quantitative"}, "y": {"field": "y", "type": "quantitative", "axis": null}}
},
{
"transform": [{"filter": "isValid(datum.name)"}],
"mark": {"type": "text", "align": "left", "baseline": "middle", "fontSize": 4.6, "font": "Liberation Serif"},
"encoding": {
"x": {"datum": 2013.7},
"y": {"field": "y", "type": "quantitative", "axis": null},
"text": {"field": "name"},
"color": {"condition": {"test": "datum.study == 1", "field": "loc", "type": "nominal"}, "value": "#111111"}
}
},
{
"data": {"values": [{"clade": "Clade 11", "from": 1, "to": 4}, {"clade": "Clade 12", "from": 31, "to": 37}]},
"mark": {"type": "rule", "color": "#555555", "strokeWidth": 0.8},
"encoding": {"x": {"datum": 2026.6}, "y": {"field": "from", "type": "quantitative", "axis": null}, "y2": {"field": "to"}}
},
{
"data": {"values": [{"clade": "Clade 11", "from": 1, "to": 4}, {"clade": "Clade 12", "from": 31, "to": 37}]},
"transform": [{"calculate": "(datum.from + datum.to) / 2", "as": "mid"}],
"mark": {"type": "text", "angle": 90, "fontSize": 8, "font": "Liberation Serif", "color": "#111111", "align": "center", "baseline": "middle"},
"encoding": {"x": {"datum": 2028.2}, "y": {"field": "mid", "type": "quantitative", "axis": null}, "text": {"field": "clade"}}
},
{
"data": {"values": [{}]},
"mark": {"type": "rule", "color": "#333333", "strokeWidth": 0.8},
"encoding": {"x": {"datum": 1970}, "x2": {"datum": 2013}, "y": {"datum": 85.26, "axis": null}}
},
{
"data": {"values": [{"panel": "B"}]},
"mark": {"type": "text", "align": "left", "baseline": "alphabetic", "font": "Liberation Serif", "fontSize": 18, "fontWeight": "bold", "color": "black"},
"encoding": {"x": {"datum": 1963.44}, "y": {"datum": 3.88, "axis": null}, "text": {"field": "panel"}}
}
]
}
]
}
